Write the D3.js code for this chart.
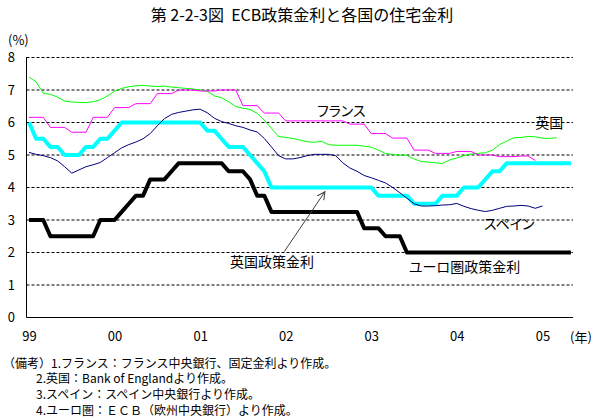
<!DOCTYPE html>
<meta charset="utf-8">
<html>
<head>
  <title>ECB政策金利と各国の住宅金利</title>
  <script src="https://d3js.org/d3.v7.min.js"></script>
  <style>
    body { margin: 0; background: #fff; }
    svg { display: block; font-family: "Noto Sans CJK JP", sans-serif; }
    .lbl { font-feature-settings: "palt"; }
    .title { white-space: pre; }
  </style>
</head>
<body>
<div id="my_dataviz"></div>
<script>
  // monthly data, index 0 = Jan 1999
  var yearLabels = ["99", "00", "01", "02", "03", "04", "05"];
  var yTicks = [0, 1, 2, 3, 4, 5, 6, 7, 8];

  // フランス (固定金利)
  var france = [6.16, 6.16, 6.16, 5.85, 5.85, 5.85, 5.70, 5.70, 5.70, 6.16, 6.16, 6.16,
    6.46, 6.46, 6.46, 6.58, 6.58, 6.58, 6.89, 6.89, 6.89, 7.00, 7.00, 7.00,
    6.97, 6.97, 6.97, 7.00, 7.00, 7.00, 6.52, 6.52, 6.52, 6.29, 6.29, 6.29,
    6.05, 6.05, 6.05, 6.05, 6.05, 6.05, 6.05, 6.05, 6.05, 5.95, 5.95, 5.95,
    5.66, 5.66, 5.66, 5.52, 5.52, 5.52, 5.15, 5.15, 5.15, 5.05, 5.05, 5.05,
    5.11, 5.11, 5.11, 5.00, 5.00, 5.00, 4.95, 4.95, 4.95, 4.97, 4.97, 4.83];

  // 英国 (住宅金利)
  var ukMortgage = [7.40, 7.25, 6.90, 6.87, 6.78, 6.66, 6.63, 6.62, 6.61, 6.64, 6.70, 6.82,
    6.96, 7.05, 7.10, 7.13, 7.14, 7.12, 7.11, 7.12, 7.09, 7.07, 7.05, 7.03,
    7.00, 6.96, 6.82, 6.76, 6.64, 6.49, 6.44, 6.40, 6.28, 6.07, 5.82, 5.57,
    5.54, 5.51, 5.46, 5.41, 5.39, 5.42, 5.32, 5.30, 5.30, 5.30, 5.30, 5.27,
    5.24, 5.15, 5.05, 5.01, 5.00, 4.99, 4.88, 4.80, 4.78, 4.76, 4.74, 4.85,
    4.91, 4.98, 5.03, 5.05, 5.07, 5.15, 5.32, 5.43, 5.53, 5.54, 5.57, 5.56,
    5.52, 5.51, 5.53];

  // スペイン
  var spain = [5.08, 5.02, 4.98, 4.92, 4.82, 4.64, 4.44, 4.54, 4.64, 4.70, 4.77, 4.92,
    5.07, 5.22, 5.32, 5.40, 5.50, 5.66, 5.90, 6.12, 6.25, 6.31, 6.35, 6.39,
    6.41, 6.30, 6.13, 6.03, 5.97, 5.90, 5.85, 5.77, 5.71, 5.51, 5.25, 4.98,
    4.88, 4.88, 4.92, 4.98, 5.02, 5.02, 5.02, 4.98, 4.76, 4.60, 4.50, 4.37,
    4.30, 4.22, 4.14, 4.00, 3.84, 3.67, 3.50, 3.43, 3.43, 3.44, 3.46, 3.47,
    3.51, 3.42, 3.35, 3.30, 3.26, 3.30, 3.36, 3.42, 3.43, 3.45, 3.43, 3.36,
    3.43];

  // 英国政策金利
  var ukPolicy = [6.00, 5.50, 5.50, 5.25, 5.25, 5.00, 5.00, 5.00, 5.25, 5.25, 5.50, 5.50,
    5.75, 6.00, 6.00, 6.00, 6.00, 6.00, 6.00, 6.00, 6.00, 6.00, 6.00, 6.00,
    6.00, 5.75, 5.75, 5.50, 5.25, 5.25, 5.25, 5.00, 4.75, 4.50, 4.00, 4.00,
    4.00, 4.00, 4.00, 4.00, 4.00, 4.00, 4.00, 4.00, 4.00, 4.00, 4.00, 4.00,
    4.00, 3.75, 3.75, 3.75, 3.75, 3.75, 3.50, 3.50, 3.50, 3.50, 3.75, 3.75,
    3.75, 4.00, 4.00, 4.00, 4.25, 4.50, 4.50, 4.75, 4.75, 4.75, 4.75, 4.75,
    4.75, 4.75, 4.75, 4.75, 4.75];

  // ユーロ圏政策金利 (ECB)
  var ecbRate = [3.00, 3.00, 3.00, 2.50, 2.50, 2.50, 2.50, 2.50, 2.50, 2.50, 3.00, 3.00,
    3.00, 3.25, 3.50, 3.75, 3.75, 4.25, 4.25, 4.25, 4.50, 4.75, 4.75, 4.75,
    4.75, 4.75, 4.75, 4.75, 4.50, 4.50, 4.50, 4.25, 3.75, 3.75, 3.25, 3.25,
    3.25, 3.25, 3.25, 3.25, 3.25, 3.25, 3.25, 3.25, 3.25, 3.25, 3.25, 2.75,
    2.75, 2.75, 2.50, 2.50, 2.50, 2.00, 2.00, 2.00, 2.00, 2.00, 2.00, 2.00,
    2.00, 2.00, 2.00, 2.00, 2.00, 2.00, 2.00, 2.00, 2.00, 2.00, 2.00, 2.00,
    2.00, 2.00, 2.00, 2.00, 2.00];

  var notes = [
    "（備考）1.フランス：フランス中央銀行、固定金利より作成。",
    "2.英国：Bank of Englandより作成。",
    "3.スペイン：スペイン中央銀行より作成。",
    "4.ユーロ圏：ＥＣＢ（欧州中央銀行）より作成。"
  ];

  var width = 597, height = 418;
  var plotLeft = 26.5, plotRight = 573, plotTop = 57, plotBottom = 317.5;

  var svg = d3.select("#my_dataviz")
    .append("svg")
      .attr("width", width)
      .attr("height", height);

  var x = d3.scaleLinear().domain([0, 72]).range([29, 542.4]);
  var y = d3.scaleLinear().domain([0, 8]).range([317.5, 57.5]);

  // dashed gridlines
  svg.append("g")
    .selectAll("line")
    .data(yTicks.filter(function(d) { return d > 0; }))
    .enter()
    .append("line")
      .attr("x1", plotLeft)
      .attr("x2", plotRight)
      .attr("y1", function(d) { return y(d); })
      .attr("y2", function(d) { return y(d); })
      .style("stroke", "#000")
      .style("stroke-width", 1)
      .style("stroke-dasharray", "3,2");

  // axis lines
  svg.append("line")
    .attr("x1", plotLeft).attr("x2", plotLeft)
    .attr("y1", plotTop).attr("y2", plotBottom)
    .style("stroke", "#000");
  svg.append("line")
    .attr("x1", plotLeft).attr("x2", plotRight)
    .attr("y1", plotBottom).attr("y2", plotBottom)
    .style("stroke", "#000");

  // y axis labels
  var yAxis = svg.append("g")
    .attr("transform", "translate(27,0)")
    .call(d3.axisLeft(y).tickValues(yTicks).tickSize(0).tickPadding(12));
  yAxis.select(".domain").remove();
  yAxis.attr("font-family", null).attr("font-size", 13);

  // x axis labels
  var xAxis = svg.append("g")
    .attr("transform", "translate(0,318)")
    .call(d3.axisBottom(x)
      .tickValues(yearLabels.map(function(d, i) { return i * 12; }))
      .tickFormat(function(d, i) { return yearLabels[i]; })
      .tickSize(0).tickPadding(14));
  xAxis.select(".domain").remove();
  xAxis.attr("font-family", null).attr("font-size", 13);

  // lines
  var line = d3.line()
    .x(function(d, i) { return x(i); })
    .y(function(d) { return y(d); });

  var series = [
    {values: ukPolicy, color: "#00ffff", w: 4},
    {values: ecbRate, color: "#000000", w: 4},
    {values: ukMortgage, color: "#00ff00", w: 1},
    {values: france, color: "#ff00ff", w: 1},
    {values: spain, color: "#000080", w: 1}
  ];

  svg.append("g")
    .selectAll("path")
    .data(series)
    .enter()
    .append("path")
      .attr("d", function(d) { return line(d.values); })
      .style("fill", "none")
      .style("stroke", function(d) { return d.color; })
      .style("stroke-width", function(d) { return d.w; })
      .style("stroke-linejoin", "round");

  // series labels
  var labels = [
    {text: "フランス", i: 40.4, v: 6.38},
    {text: "英国", i: 71, v: 6.02},
    {text: "スペイン", i: 63.8, v: 2.90},
    {text: "英国政策金利", i: 28.2, v: 1.75},
    {text: "ユーロ圏政策金利", i: 53.3, v: 1.59}
  ];
  svg.append("g")
    .selectAll("text")
    .data(labels)
    .enter()
    .append("text")
      .attr("class", "lbl")
      .attr("x", function(d) { return x(d.i); })
      .attr("y", function(d) { return y(d.v); })
      .attr("dominant-baseline", "central")
      .style("font-size", "14px")
      .text(function(d) { return d.text; });

  // arrow from 英国政策金利 label to the cyan line
  svg.append("defs").append("marker")
    .attr("id", "arrow")
    .attr("markerUnits", "userSpaceOnUse")
    .attr("markerWidth", 10).attr("markerHeight", 10)
    .attr("refX", 8).attr("refY", 4)
    .attr("orient", "auto")
    .append("path")
      .attr("d", "M0,0 L8,4 L0,8")
      .style("fill", "none")
      .style("stroke", "#404040");

  svg.append("line")
    .attr("x1", x(35.8)).attr("y1", y(2.03))
    .attr("x2", x(41.5)).attr("y2", y(3.87))
    .style("stroke", "#404040")
    .style("stroke-width", 1)
    .attr("marker-end", "url(#arrow)");

  // title and units
  svg.append("text")
    .attr("class", "title")
    .attr("x", 302)
    .attr("y", 14)
    .attr("text-anchor", "middle")
    .attr("dominant-baseline", "central")
    .style("font-size", "16px")
    .text("第 2-2-3図  ECB政策金利と各国の住宅金利");

  svg.append("text")
    .attr("x", 8).attr("y", 39)
    .attr("dominant-baseline", "central")
    .style("font-size", "13px")
    .text("(%)");

  svg.append("text")
    .attr("x", 570).attr("y", 336)
    .attr("dominant-baseline", "central")
    .style("font-size", "13px")
    .text("(年)");

  // notes
  svg.append("g")
    .selectAll("text")
    .data(notes)
    .enter()
    .append("text")
      .attr("x", function(d, i) { return i == 0 ? 3 : 36; })
      .attr("y", function(d, i) { return 362 + i * 15.7; })
      .attr("dominant-baseline", "central")
      .style("font-size", "12px")
      .text(function(d) { return d; });
</script>
</body>
</html>
